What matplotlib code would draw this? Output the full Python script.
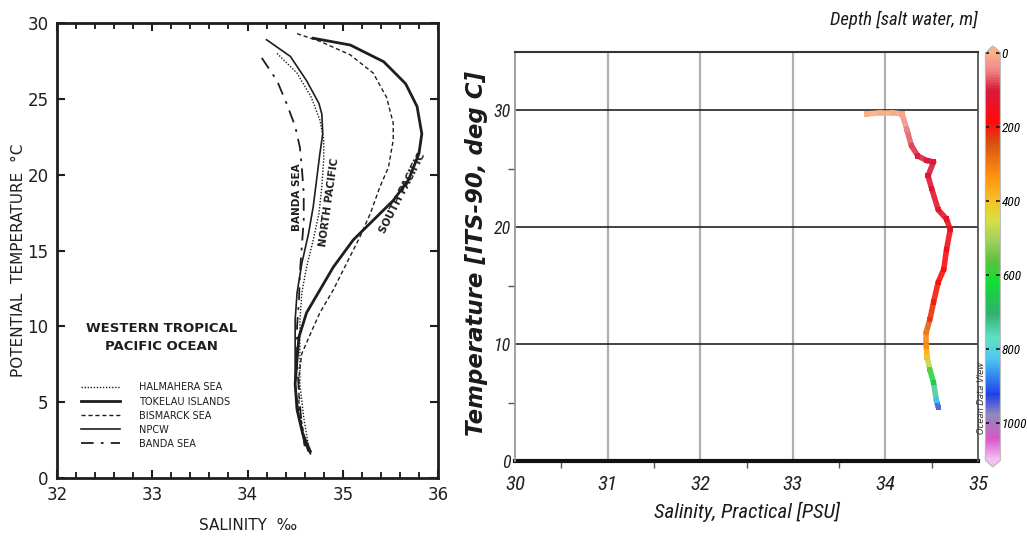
import numpy as np
import matplotlib
matplotlib.use("Agg")
import matplotlib.pyplot as plt
from matplotlib import font_manager
from matplotlib.colors import LinearSegmentedColormap, Normalize
from matplotlib.collections import LineCollection
from matplotlib.lines import Line2D
from matplotlib.cm import ScalarMappable

# ---- left panel: Western Tropical Pacific T-S curves (salinity, temperature) ----
halmahera_s = [34.31, 34.52, 34.67, 34.76, 34.80, 34.80, 34.78, 34.75, 34.69, 34.62, 34.57, 34.55, 34.55, 34.55, 34.59, 34.64]
halmahera_t = [28.0, 26.7, 25.1, 23.6, 22.3, 21.0, 19.2, 17.45, 15.7, 13.9, 12.2, 10.4, 8.4, 6.2, 4.0, 2.1]
tokelau_s = [34.69, 35.08, 35.43, 35.66, 35.78, 35.83, 35.80, 35.69, 35.53, 35.32, 35.11, 34.90, 34.76, 34.62, 34.54, 34.52, 34.50, 34.52, 34.58, 34.66]
tokelau_t = [29.0, 28.55, 27.45, 26.0, 24.5, 22.7, 21.4, 19.65, 18.3, 17.0, 15.7, 13.9, 12.4, 10.9, 9.3, 7.8, 6.2, 4.5, 2.9, 1.75]
bismarck_s = [34.52, 34.76, 35.08, 35.32, 35.46, 35.53, 35.53, 35.48, 35.39, 35.29, 35.18, 35.04, 34.90, 34.76, 34.66, 34.57, 34.54, 34.54, 34.59, 34.64]
bismarck_t = [29.3, 28.8, 27.9, 26.7, 25.1, 23.4, 22.3, 20.5, 19.2, 17.45, 15.9, 14.15, 12.4, 10.9, 9.5, 8.2, 6.7, 4.7, 2.95, 1.6]
npcw_s = [34.20, 34.45, 34.62, 34.75, 34.78, 34.79, 34.76, 34.73, 34.69, 34.64, 34.57, 34.52, 34.50, 34.50, 34.50, 34.54, 34.60, 34.66]
npcw_t = [28.9, 27.8, 26.2, 24.7, 24.0, 22.7, 21.4, 19.9, 17.9, 16.1, 14.15, 12.2, 10.4, 8.4, 6.2, 4.0, 2.3, 1.6]
banda_s = [34.15, 34.31, 34.41, 34.50, 34.55, 34.57, 34.59, 34.59, 34.57, 34.55, 34.54, 34.52, 34.52, 34.54, 34.57, 34.60]
banda_t = [27.7, 26.2, 24.7, 23.2, 21.8, 20.5, 18.8, 17.0, 15.25, 13.5, 11.7, 10.0, 7.8, 5.6, 3.4, 2.1]
legend_labels = ["HALMAHERA SEA", "TOKELAU ISLANDS", "BISMARCK SEA", "NPCW", "BANDA SEA"]

# ---- right panel: CTD profile (salinity, temperature, depth) ----
ctd_s = [33.80, 33.95, 34.08, 34.18, 34.23, 34.28, 34.35, 34.45, 34.52, 34.46, 34.50, 34.57, 34.66, 34.70,
         34.66, 34.63, 34.57, 34.52, 34.48, 34.44, 34.44, 34.45, 34.48, 34.52, 34.55, 34.57]
ctd_t = [29.7, 29.8, 29.8, 29.7, 28.4, 27.0, 26.1, 25.7, 25.6, 24.4, 23.3, 21.5, 20.7, 19.8,
         18.1, 16.4, 15.3, 13.6, 12.1, 11.0, 9.8, 8.9, 7.8, 6.7, 5.2, 4.6]
ctd_depth = [2, 5, 8, 15, 50, 80, 95, 100, 105, 110, 115, 125, 135, 150,
             170, 185, 195, 205, 225, 300, 330, 400, 550, 650, 830, 950]
depth_ticks = [0, 200, 400, 600, 800, 1000]

odv_colors = [(0.0, "#f8b088"), (0.04, "#f08888"), (0.09, "#d81a3a"), (0.17, "#ff0a0a"),
              (0.22, "#d85010"), (0.30, "#ff9010"), (0.36, "#f8c020"), (0.41, "#d8e040"),
              (0.46, "#a0d060"), (0.51, "#60c040"), (0.56, "#10e030"), (0.64, "#30b070"),
              (0.70, "#60e0c0"), (0.75, "#50c8f0"), (0.80, "#3080f0"), (0.84, "#2040e8"),
              (0.89, "#9088c0"), (0.95, "#d858c8"), (1.0, "#f4c0f4")]
odv = LinearSegmentedColormap.from_list("odv", odv_colors)

# pick a narrow face for the ODV texts if one is around
fonts = font_manager.fontManager.ttflist
names = {f.name for f in fonts}
narrow, nstretch, nscale = "Liberation Sans", "normal", 0.68
for cand in ["Liberation Sans Narrow", "Roboto Condensed", "Open Sans Condensed"]:
    if cand in names:
        narrow, nstretch, nscale = cand, "normal", 1.0
        break
else:
    if any(f.name == "DejaVu Sans" and f.stretch == "condensed" for f in fonts):
        narrow, nstretch, nscale = "DejaVu Sans", "condensed", 0.8


def nfont(size):
    return dict(family=narrow, stretch=nstretch, style="italic", size=size * nscale)


fig = plt.figure(figsize=(10.27, 5.49), dpi=100)
ink = "#1e1e1e"

# ================= left panel =================
ax1 = fig.add_axes([0.0555, 0.1293, 0.371, 0.8287])
ax1.plot(halmahera_s, halmahera_t, color=ink, lw=1.0, ls=(0, (1, 1.2)))
ax1.plot(tokelau_s, tokelau_t, color=ink, lw=2.0)
ax1.plot(bismarck_s, bismarck_t, color=ink, lw=1.0, ls=(0, (3, 2)))
ax1.plot(npcw_s, npcw_t, color=ink, lw=1.2)
ax1.plot(banda_s, banda_t, color=ink, lw=1.3, ls=(0, (7, 4, 1.5, 4)))
ax1.set_xlim(32, 36)
ax1.set_ylim(0, 30)
ax1.set_xticks([32, 33, 34, 35, 36])
ax1.set_xticks(np.arange(32, 36.01, 0.2), minor=True)
ax1.set_yticks([0, 5, 10, 15, 20, 25, 30])
ax1.tick_params(axis="both", which="major", direction="in", length=6, width=1.5,
                top=True, right=True, labelsize=12, colors=ink, pad=6)
ax1.tick_params(axis="x", which="minor", direction="in", length=4, width=1.2, top=True)
for sp in ax1.spines.values():
    sp.set_linewidth(2)
    sp.set_color(ink)

ax1.text(34.52, 18.5, "BANDA SEA", rotation=90, fontsize=7.5, fontweight="bold",
         ha="center", va="center", color=ink)
ax1.text(34.86, 18.2, "NORTH PACIFIC", rotation=82, fontsize=7.5, fontweight="bold",
         ha="center", va="center", color=ink)
ax1.text(35.63, 18.8, "SOUTH PACIFIC", rotation=63, fontsize=7.5, fontweight="bold",
         ha="center", va="center", color=ink)
ax1.text(33.1, 9.25, "WESTERN TROPICAL\nPACIFIC OCEAN", fontsize=9.5, fontweight="bold",
         ha="center", va="center", color=ink, linespacing=1.5)

handles = [Line2D([], [], color=ink, lw=1.0, ls=(0, (1, 1.2))),
           Line2D([], [], color=ink, lw=2.0),
           Line2D([], [], color=ink, lw=1.0, ls=(0, (3, 2))),
           Line2D([], [], color=ink, lw=1.2),
           Line2D([], [], color=ink, lw=1.3, ls=(0, (7, 4, 1.5, 4)))]
leg = ax1.legend(handles, legend_labels, loc="lower left", bbox_to_anchor=(0.04, 0.045),
                 frameon=False, fontsize=7, handlelength=4.0, handletextpad=2.0,
                 labelspacing=0.42)
for t in leg.get_texts():
    t.set_color(ink)

fig.text(19 / 1027, 1 - 260 / 549, "POTENTIAL  TEMPERATURE  °C", rotation=90,
         ha="center", va="center", fontsize=11, color=ink)
fig.text(248 / 1027, 1 - 526 / 549, "SALINITY  ‰", ha="center", va="center",
         fontsize=11, color=ink)

# ================= right panel =================
ax2 = fig.add_axes([0.5015, 0.1603, 0.4508, 0.745])
ax2.set_xlim(30, 35)
ax2.set_ylim(0, 35)
for s in [31, 32, 33, 34]:
    ax2.axvline(s, color="#b0b0b0", lw=1.6, zorder=1)
for t in [10, 20, 30]:
    ax2.axhline(t, color="#222222", lw=1.2, zorder=1)
ax2.axhline(0, color="#111111", lw=3, zorder=2, clip_on=False)

pts = np.column_stack([ctd_s, ctd_t])
segs = np.stack([pts[:-1], pts[1:]], axis=1)
norm = Normalize(0, 1100)
mid_depth = (np.array(ctd_depth[:-1]) + np.array(ctd_depth[1:])) / 2
lc = LineCollection(segs, cmap=odv, norm=norm, linewidths=4, alpha=0.9, capstyle="round", zorder=3)
lc.set_array(mid_depth)
ax2.add_collection(lc)
ax2.scatter(ctd_s, ctd_t, c=ctd_depth, cmap=odv, norm=norm, s=14, marker="s",
            linewidths=0, zorder=4)

ax2.set_xticks([30, 31, 32, 33, 34, 35])
ax2.set_xticks(np.arange(30.5, 35, 1), minor=True)
ax2.set_yticks([0, 10, 20, 30])
ax2.set_yticks([5, 15, 25], minor=True)
ax2.tick_params(axis="x", which="major", length=0, pad=10)
ax2.tick_params(axis="y", which="major", length=0, pad=3)
ax2.tick_params(axis="both", which="minor", length=5, width=1, color="#555555")
for lab in ax2.get_xticklabels():
    lab.set(**nfont(15))
    lab.set_color("#222222")
for lab in ax2.get_yticklabels():
    lab.set(**nfont(13))
    lab.set_color("#222222")
ax2.spines["top"].set_color("#333333")
ax2.spines["top"].set_linewidth(1.5)
ax2.spines["bottom"].set_visible(False)
ax2.spines["left"].set_color("#999999")
ax2.spines["left"].set_linewidth(1.3)
ax2.spines["right"].set_color("#555555")
ax2.spines["right"].set_linewidth(1.3)

ax2.set_xlabel("Salinity, Practical [PSU]", color="#1a1a1a", labelpad=6, **nfont(15))
fig.text(477 / 1027, 1 - 254 / 549, "Temperature [ITS-90, deg C]", rotation=90,
         ha="center", va="center", fontsize=16.5, fontweight="bold", style="italic",
         color="#1a1a1a")
fig.text(904 / 1027, 1 - 20 / 549, "Depth [salt water, m]", ha="center", va="center",
         color="#1a1a1a", **nfont(13.5))
fig.text(982 / 1027, 1 - 398 / 549, "Ocean Data View", rotation=90, ha="center",
         va="center", fontsize=6, style="italic", color="#333333")

cax = fig.add_axes([0.9595, 0.1494, 0.0146, 0.7668])
sm = ScalarMappable(norm=norm, cmap=odv)
cb = fig.colorbar(sm, cax=cax, extend="both", extendfrac=0.017)
cb.set_ticks(depth_ticks)
cax.invert_yaxis()
cb.outline.set_edgecolor("#bbbbbb")
cb.outline.set_linewidth(0.8)
cax.tick_params(direction="in", length=3, width=1.2, left=True, right=True,
                color="#111111", pad=1)
for lab in cax.get_yticklabels():
    lab.set(**nfont(9.5))

fig.savefig("out.png", dpi=100)
